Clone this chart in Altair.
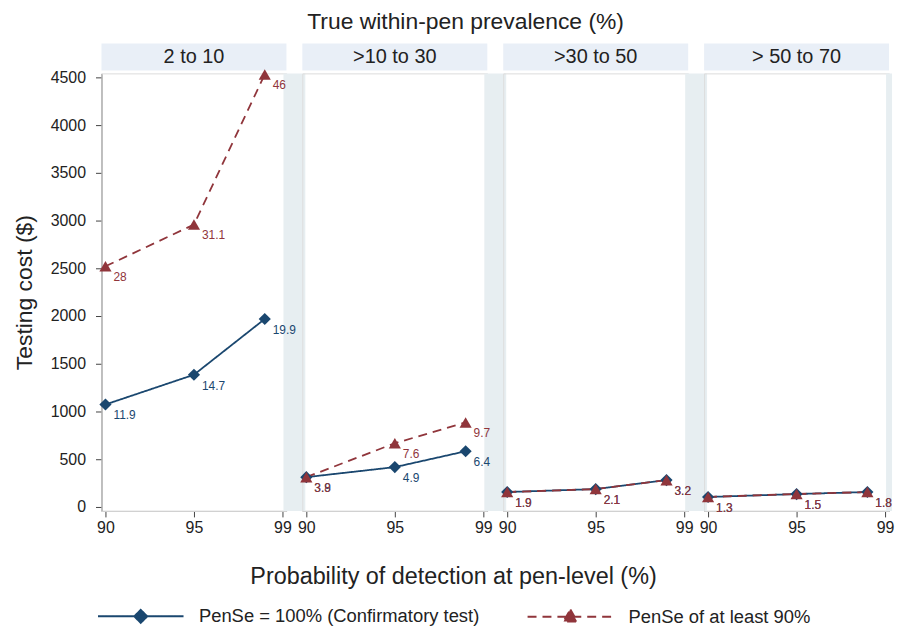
import altair as alt
import pandas as pd

# ---------------- data ----------------
panels = ["2 to 10", ">10 to 30", ">30 to 50", "> 50 to 70"]
detection = [90, 95, 99]
series_names = ["PenSe = 100% (Confirmatory test)", "PenSe of at least 90%"]

cost_confirm = [[1073, 1385, 1969], [312, 417, 583], [156, 187, 281], [104, 135, 156]]
cost_atleast90 = [[2521, 2958, 4531], [312, 667, 885], [156, 187, 281], [104, 135, 156]]
label_confirm = [["11.9", "14.7", "19.9"], ["3.9", "4.9", "6.4"], ["1.9", "2.1", "3.2"], ["1.3", "1.5", "1.8"]]
label_atleast90 = [["28", "31.1", "46"], ["3.8", "7.6", "9.7"], ["1.9", "2.1", "3.2"], ["1.3", "1.5", "1.8"]]

x_tick_values = [90, 95, 100]
x_tick_labels = ["90", "95", "99"]
y_tick_values = [0, 500, 1000, 1500, 2000, 2500, 3000, 3500, 4000, 4500]

# ---------------- table ----------------
rows = []
for pi, p in enumerate(panels):
    for s, costs, labs in [(series_names[0], cost_confirm, label_confirm),
                           (series_names[1], cost_atleast90, label_atleast90)]:
        for di, d in enumerate(detection):
            rows.append({"panel": p, "series": s, "pod": d,
                         "cost": costs[pi][di], "label": labs[pi][di]})
df = pd.DataFrame(rows)

# ---------------- style ----------------
FONT = "Liberation Sans"
TXT = "#222222"
AX = "#444444"
BLUE = "#1a476f"
RED = "#90353b"
STRIP = "#e9eff7"
BAND = "#e7eef1"
W, H, SP = 186, 440, 16

label_expr = " : ".join(
    [f"datum.value == {v} ? '{l}'" for v, l in zip(x_tick_values, x_tick_labels)]
) + " : datum.label"

X = alt.X("pod:Q",
          scale=alt.Scale(domain=[89.775, 100.225], nice=False, zero=False),
          axis=alt.Axis(values=x_tick_values, labelExpr=label_expr, title=None, grid=False,
                        tickSize=6, labelPadding=3, labelFontSize=16, labelFont=FONT,
                        labelColor=TXT, domainColor=AX, tickColor=AX))
Y = alt.Y("cost:Q",
          scale=alt.Scale(domain=[-42, 4542], nice=False, zero=False),
          axis=alt.Axis(values=y_tick_values, format="d", title="Testing cost ($)", grid=False,
                        tickSize=6, labelPadding=10, labelFontSize=16, labelFont=FONT,
                        labelColor=TXT, domainColor=AX, tickColor=AX,
                        titleFont=FONT, titleFontSize=23, titleFontWeight="normal",
                        titleColor=TXT, titlePadding=14))

color_scale = alt.Scale(domain=series_names, range=[BLUE, RED])
dash_scale = alt.Scale(domain=series_names, range=[[1, 0], [9, 6]])
legend_paths = [
    "M-1,0L1,0M0,-0.15L0.15,0L0,0.15L-0.15,0Z",
    "M-1,0L1,0M0,-0.17L0.16,0.11L-0.16,0.11Z",
]
shape_scale = alt.Scale(domain=series_names, range=legend_paths)

leg = alt.Legend(title="Probability of detection at pen-level (%)", orient="none",
                 legendX=-5, legendY=494, direction="horizontal", columns=2,
                 titleFont=FONT, titleFontSize=23.5, titleFontWeight="normal", titleColor=TXT,
                 titleAnchor="middle", titlePadding=-16, titleLimit=900,
                 labelFont=FONT, labelFontSize=18.5, labelColor=TXT, labelOffset=14,
                 labelLimit=600, symbolSize=7400, symbolStrokeWidth=2, symbolOpacity=1,
                 columnPadding=43)

first_row = (alt.datum.pod == detection[0]) & (alt.datum.series == series_names[0])
base = alt.Chart(df)

legend_layer = base.transform_filter("false").mark_point(filled=True, opacity=1).encode(
    x=X, y=Y,
    shape=alt.Shape("series:N", scale=shape_scale, legend=leg),
    fill=alt.Fill("series:N", scale=color_scale, legend=leg),
    stroke=alt.Stroke("series:N", scale=color_scale, legend=leg),
    strokeDash=alt.StrokeDash("series:N", scale=dash_scale, legend=leg))

bands_mid = base.transform_filter(first_row & (alt.datum.panel != panels[-1])).mark_rect(
    fill=BAND).encode(x=alt.value(W - 3), x2=alt.value(W + SP + 3),
                      y=alt.value(0), y2=alt.value(H))
bands_end = base.transform_filter(first_row & (alt.datum.panel == panels[-1])).mark_rect(
    fill=BAND).encode(x=alt.value(W - 3), x2=alt.value(W + 3),
                      y=alt.value(0), y2=alt.value(H))
strips = base.transform_filter(first_row).mark_rect(fill=STRIP).encode(
    x=alt.value(0), x2=alt.value(W), y=alt.value(-30), y2=alt.value(-3))
strip_text = base.transform_filter(first_row).mark_text(
    font=FONT, fontSize=20, color=TXT, align="center", baseline="middle").encode(
    x=alt.value(W / 2), y=alt.value(-16), text="panel:N")

lines = base.mark_line(strokeWidth=1.8).encode(
    x=X, y=Y,
    stroke=alt.Stroke("series:N", scale=color_scale, legend=None),
    strokeDash=alt.StrokeDash("series:N", scale=dash_scale, legend=None),
    order="pod:Q")
pts_blue = base.transform_filter(alt.datum.series == series_names[0]).mark_point(
    shape="diamond", filled=True, size=150, opacity=1).encode(
    x=X, y=Y, fill=alt.Fill("series:N", scale=color_scale, legend=None))
pts_red = base.transform_filter(alt.datum.series == series_names[1]).mark_point(
    shape="triangle-up", filled=True, size=150, opacity=1).encode(
    x=X, y=Y, fill=alt.Fill("series:N", scale=color_scale, legend=None))
labels = base.mark_text(font=FONT, fontSize=12, align="left", baseline="middle",
                        dx=8, dy=11).encode(
    x=X, y=Y, text="label:N",
    fill=alt.Fill("series:N", scale=color_scale, legend=None))

layered = alt.layer(legend_layer, bands_mid, bands_end, strips, strip_text, lines,
                    pts_blue, pts_red, labels).properties(width=W, height=H)

chart = layered.facet(
    column=alt.Column("panel:N", sort=panels, header=alt.Header(labels=False, title=None)),
    spacing=SP,
    bounds="flush",
).properties(
    title=alt.TitleParams("True within-pen prevalence (%)", font=FONT, fontSize=23,
                          fontWeight="normal", color=TXT, anchor="middle", frame="bounds",
                          dx=12, offset=9),
    padding={"left": 5, "top": 1, "right": 5, "bottom": 5},
).configure_view(stroke="transparent", fill="transparent").configure(background="white")

chart.save("out.html", embed_options={"renderer": "svg", "actions": False})
